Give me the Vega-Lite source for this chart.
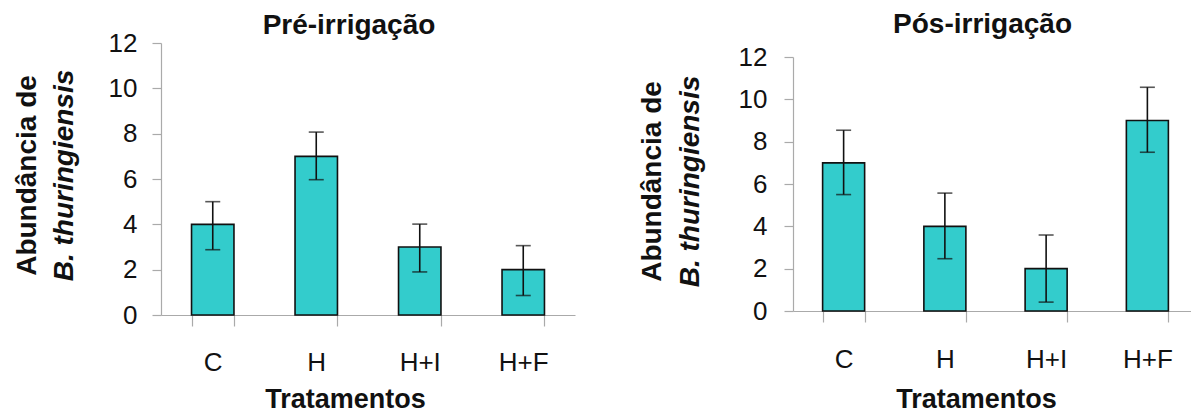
{
  "$schema": "https://vega.github.io/schema/vega-lite/v6.json",
  "background": "white",
  "padding": {"left": 13, "top": 11, "right": 0, "bottom": 0},
  "config": {"font": "Liberation Sans", "view": {"stroke": null}, "axis": {"grid": false}},
  "data": {"values": [
    {"fase": "pre", "trat": "C", "media": 4, "inf": 2.88, "sup": 5.0},
    {"fase": "pre", "trat": "H", "media": 7, "inf": 5.97, "sup": 8.07},
    {"fase": "pre", "trat": "H+I", "media": 3, "inf": 1.9, "sup": 4.01},
    {"fase": "pre", "trat": "H+F", "media": 2, "inf": 0.86, "sup": 3.06},
    {"fase": "pos", "trat": "C", "media": 7, "inf": 5.5, "sup": 8.54},
    {"fase": "pos", "trat": "H", "media": 4, "inf": 2.47, "sup": 5.57},
    {"fase": "pos", "trat": "H+I", "media": 2, "inf": 0.42, "sup": 3.59},
    {"fase": "pos", "trat": "H+F", "media": 9, "inf": 7.5, "sup": 10.57}
  ]},
  "spacing": 63,
  "hconcat": [
    {
      "width": 414,
      "height": 272,
      "title": {"text": "Pré-irrigação", "fontSize": 28, "fontWeight": "bold", "color": "#111", "anchor": "middle", "dx": -19, "baseline": "alphabetic", "offset": -32},
      "transform": [{"filter": "datum.fase == 'pre'"}],
      "encoding": {
        "x": {"field": "trat", "type": "nominal", "sort": ["C", "H", "H+I", "H+F"],
          "scale": {"paddingInner": 0.59, "paddingOuter": 0.295},
          "axis": {"title": "Tratamentos", "titleFontSize": 27, "titleFontWeight": "bold", "titleColor": "#111", "titleX": 184, "titleY": 92, "titleBaseline": "alphabetic", "titleAlign": "center",
            "labelAngle": 0, "labelFontSize": 26, "labelColor": "#111", "labelBaseline": "alphabetic", "labelPadding": 44,
            "tickBand": "extent", "tickSize": 11, "tickColor": "#aaaaaa", "domainColor": "#aaaaaa", "tickWidth": 1.2, "domainWidth": 1.2}}
      },
      "layer": [
        {"mark": {"type": "bar", "fill": "#33CCCC", "stroke": "#111", "strokeWidth": 1.6},
          "encoding": {"y": {"field": "media", "type": "quantitative", "scale": {"domain": [0, 12]},
            "axis": {"orient": "left", "values": [0, 2, 4, 6, 8, 10, 12], "title": "B. thuringiensis", "titleFontStyle": "italic", "titleFontWeight": "bold", "titleFontSize": 28, "titleColor": "#111",
              "titleAngle": 270, "titleBaseline": "alphabetic", "titleAlign": "center", "titleX": -89, "titleY": 132,
              "labelFontSize": 26, "labelColor": "#111", "labelPadding": 15, "tickSize": 9, "tickColor": "#aaaaaa", "domainColor": "#aaaaaa", "tickWidth": 1.2, "domainWidth": 1.2}}}},
        {"mark": {"type": "rule", "color": "#111", "strokeWidth": 1.6},
          "encoding": {"y": {"field": "inf", "type": "quantitative", "scale": {"domain": [0, 12]},
            "axis": {"orient": "left", "title": "Abundância de", "titleFontWeight": "bold", "titleFontSize": 28, "titleColor": "#111",
              "titleAngle": 270, "titleBaseline": "alphabetic", "titleAlign": "center", "titleX": -126, "titleY": 132,
              "labels": false, "ticks": false, "domain": false}},
            "y2": {"field": "sup"}}},
        {"mark": {"type": "tick", "color": "#111", "size": 15, "thickness": 1.6},
          "encoding": {"y": {"field": "inf", "type": "quantitative", "scale": {"domain": [0, 12]}, "axis": null}}},
        {"mark": {"type": "tick", "color": "#111", "size": 15, "thickness": 1.6},
          "encoding": {"y": {"field": "sup", "type": "quantitative", "scale": {"domain": [0, 12]}, "axis": null}}}
      ],
      "resolve": {"axis": {"y": "independent"}}
    },
    {
      "width": 405,
      "height": 268,
      "title": {"text": "Pós-irrigação", "fontSize": 28, "fontWeight": "bold", "color": "#111", "anchor": "middle", "dx": -13, "baseline": "alphabetic", "offset": -18},
      "transform": [{"filter": "datum.fase == 'pos'"}],
      "encoding": {
        "x": {"field": "trat", "type": "nominal", "sort": ["C", "H", "H+I", "H+F"],
          "scale": {"paddingInner": 0.585, "paddingOuter": 0.2925},
          "axis": {"title": "Tratamentos", "titleFontSize": 27, "titleFontWeight": "bold", "titleColor": "#111", "titleX": 183, "titleY": 96, "titleBaseline": "alphabetic", "titleAlign": "center",
            "labelAngle": 0, "labelFontSize": 26, "labelColor": "#111", "labelBaseline": "alphabetic", "labelPadding": 45,
            "tickBand": "extent", "tickSize": 11, "tickColor": "#aaaaaa", "domainColor": "#aaaaaa", "tickWidth": 1.2, "domainWidth": 1.2}}
      },
      "layer": [
        {"mark": {"type": "bar", "fill": "#33CCCC", "stroke": "#111", "strokeWidth": 1.6},
          "encoding": {"y": {"field": "media", "type": "quantitative", "scale": {"domain": [0, 12], "range": [268, 14]},
            "axis": {"orient": "left", "values": [0, 2, 4, 6, 8, 10, 12], "title": "B. thuringiensis", "titleFontStyle": "italic", "titleFontWeight": "bold", "titleFontSize": 28, "titleColor": "#111",
              "titleAngle": 270, "titleBaseline": "alphabetic", "titleAlign": "center", "titleX": -95, "titleY": 138,
              "labelFontSize": 26, "labelColor": "#111", "labelPadding": 17, "tickSize": 9, "tickColor": "#aaaaaa", "domainColor": "#aaaaaa", "tickWidth": 1.2, "domainWidth": 1.2}}}},
        {"mark": {"type": "rule", "color": "#111", "strokeWidth": 1.6},
          "encoding": {"y": {"field": "inf", "type": "quantitative", "scale": {"domain": [0, 12], "range": [268, 14]},
            "axis": {"orient": "left", "title": "Abundância de", "titleFontWeight": "bold", "titleFontSize": 28, "titleColor": "#111",
              "titleAngle": 270, "titleBaseline": "alphabetic", "titleAlign": "center", "titleX": -133, "titleY": 138,
              "labels": false, "ticks": false, "domain": false}},
            "y2": {"field": "sup"}}},
        {"mark": {"type": "tick", "color": "#111", "size": 15, "thickness": 1.6},
          "encoding": {"y": {"field": "inf", "type": "quantitative", "scale": {"domain": [0, 12], "range": [268, 14]}, "axis": null}}},
        {"mark": {"type": "tick", "color": "#111", "size": 15, "thickness": 1.6},
          "encoding": {"y": {"field": "sup", "type": "quantitative", "scale": {"domain": [0, 12], "range": [268, 14]}, "axis": null}}}
      ],
      "resolve": {"axis": {"y": "independent"}}
    }
  ]
}
